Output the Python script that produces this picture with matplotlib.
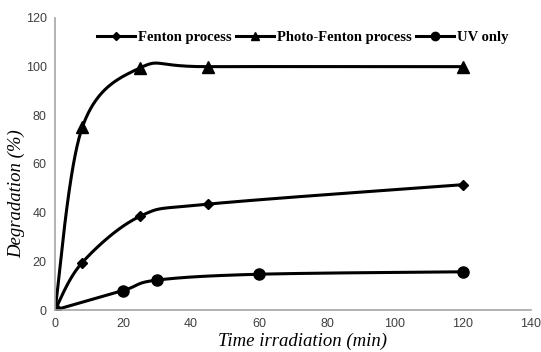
import numpy as np
import matplotlib.pyplot as plt

# Data
t_fenton = [0, 8, 25, 45, 120]
deg_fenton = [0, 19.5, 38.5, 43.5, 51.5]

t_photo = [0, 8, 25, 45, 120]
deg_photo = [0, 75, 99.5, 100, 100]

t_uv = [0, 20, 30, 60, 120]
deg_uv = [0, 8, 12.3, 14.7, 15.7]

x_ticks = [0, 20, 40, 60, 80, 100, 120, 140]
y_ticks = [0, 20, 40, 60, 80, 100, 120]


def smooth(x, y, sx=140 / 476, sy=120 / 292, n=40):
    # Excel-like smoothed line: Catmull-Rom in screen-proportional space
    p = np.column_stack([np.asarray(x, float) / sx, np.asarray(y, float) / sy])
    p = np.vstack([p[0], p, p[-1]])
    out = []
    for i in range(1, len(p) - 2):
        p0, p1, p2, p3 = p[i - 1], p[i], p[i + 1], p[i + 2]
        c1 = p1 + (p2 - p0) / 6
        c2 = p2 - (p3 - p1) / 6
        s = np.linspace(0, 1, n)[:, None]
        b = ((1 - s) ** 3) * p1 + 3 * ((1 - s) ** 2) * s * c1 + 3 * (1 - s) * s ** 2 * c2 + s ** 3 * p2
        out.append(b)
    b = np.vstack(out)
    return b[:, 0] * sx, b[:, 1] * sy


fig = plt.figure(figsize=(5.41, 3.52), dpi=100)
ax = fig.add_axes([0.1017, 0.1193, 0.8798, 0.8296])

series = [
    (t_fenton, deg_fenton, 'D', 5, 'Fenton process'),
    (t_photo, deg_photo, '^', 8, 'Photo-Fenton process'),
    (t_uv, deg_uv, 'o', 8, 'UV only'),
]
for x, y, m, ms, lab in series:
    sx, sy = smooth(x, y)
    ax.plot(sx, sy, color='black', lw=2.2, solid_capstyle='round')
    ax.plot(x, y, linestyle='none', marker=m, markersize=ms, color='black')
    # legend proxy
    ax.plot([], [], color='black', lw=2.2, marker=m, markersize=ms * 0.75, label=lab)

ax.set_xlim(0, 140)
ax.set_ylim(0, 120)
ax.set_xticks(x_ticks)
ax.set_yticks(y_ticks)
ax.tick_params(length=0, labelsize=9, labelcolor='#404040', pad=6)
for lab in ax.get_xticklabels() + ax.get_yticklabels():
    lab.set_family('Liberation Sans')

for s in ['top', 'right']:
    ax.spines[s].set_visible(False)
for s in ['left', 'bottom']:
    ax.spines[s].set_color('#a6a6a6')
    ax.spines[s].set_linewidth(1.2)

ax.set_xlabel('Time irradiation (min)', family='Liberation Serif', style='italic', fontsize=13.5, va='bottom')
ax.xaxis.set_label_coords(0.52, -0.137)
ax.set_ylabel('Degradation (%)', family='Liberation Serif', style='italic', fontsize=13.5)
ax.yaxis.set_label_coords(-0.063, 0.40)

ax.legend(loc='upper center', bbox_to_anchor=(0.52, 1.0), ncol=3, frameon=False,
          prop={'family': 'Liberation Serif', 'weight': 'bold', 'size': 10.5},
          handlelength=2.6, handletextpad=0.2, columnspacing=0.3)

fig.savefig('out.png', dpi=100)
